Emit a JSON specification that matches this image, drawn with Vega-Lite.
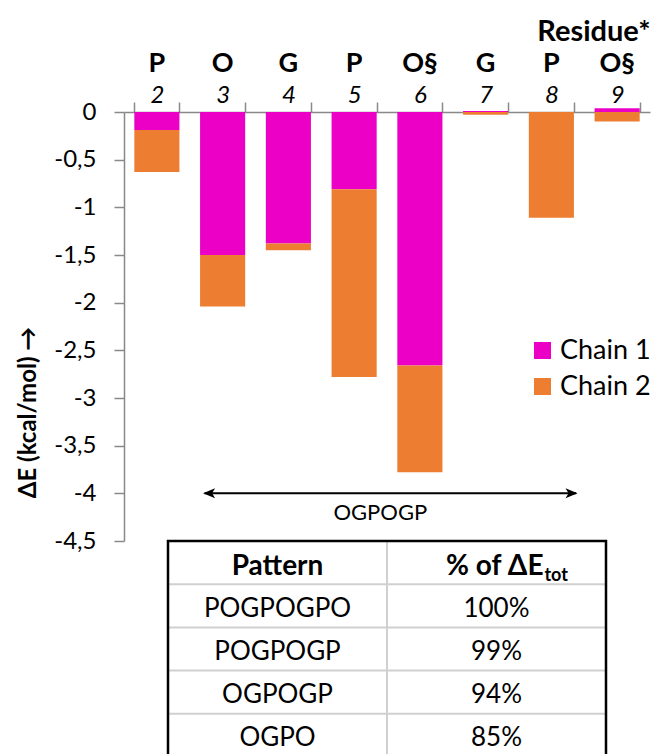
{
  "$schema": "https://vega.github.io/schema/vega-lite/v6.json",
  "background": "white",
  "padding": {"left": 16, "top": 17, "right": 0, "bottom": 0},
  "config": {"font": "Lato", "view": {"stroke": null}},
  "bounds": "flush",
  "center": true,
  "spacing": -4,
  "vconcat": [
    {
      "width": 526,
      "height": 429,
      "data": {"values": [
        {"pos": 2, "chain": "Chain 1", "dE": -0.19},
        {"pos": 2, "chain": "Chain 2", "dE": -0.44},
        {"pos": 3, "chain": "Chain 1", "dE": -1.50},
        {"pos": 3, "chain": "Chain 2", "dE": -0.54},
        {"pos": 4, "chain": "Chain 1", "dE": -1.38},
        {"pos": 4, "chain": "Chain 2", "dE": -0.07},
        {"pos": 5, "chain": "Chain 1", "dE": -0.81},
        {"pos": 5, "chain": "Chain 2", "dE": -1.97},
        {"pos": 6, "chain": "Chain 1", "dE": -2.66},
        {"pos": 6, "chain": "Chain 2", "dE": -1.12},
        {"pos": 7, "chain": "Chain 1", "dE": 0.01},
        {"pos": 7, "chain": "Chain 2", "dE": -0.03},
        {"pos": 8, "chain": "Chain 1", "dE": 0},
        {"pos": 8, "chain": "Chain 2", "dE": -1.11},
        {"pos": 9, "chain": "Chain 1", "dE": 0.04},
        {"pos": 9, "chain": "Chain 2", "dE": -0.10}
      ]},
      "layer": [
        {
          "mark": {"type": "bar"},
          "encoding": {
            "x": {
              "field": "pos", "type": "ordinal",
              "scale": {"paddingInner": 0.314, "paddingOuter": 0.157},
              "axis": {
                "orient": "top", "title": null, "labelAngle": 0,
                "domainColor": "#898989", "domainWidth": 1.5,
                "tickColor": "#898989", "tickWidth": 1.5, "tickSize": 10, "tickBand": "extent",
                "labelFontSize": 24, "labelFontStyle": "italic", "labelColor": "black", "labelPadding": -5
              }
            },
            "y": {
              "field": "dE", "type": "quantitative", "stack": "zero",
              "scale": {"domain": [-4.5, 0], "nice": false, "zero": false},
              "axis": {
                "values": [0, -0.5, -1, -1.5, -2, -2.5, -3, -3.5, -4, -4.5],
                "labelExpr": "replace(toString(datum.value), '.', ',')",
                "labelFontSize": 24, "labelColor": "black", "labelPadding": 18,
                "tickSize": 10, "tickColor": "#898989", "tickWidth": 1.5,
                "domainColor": "#898989", "domainWidth": 1.5, "grid": false,
                "title": "ΔE (kcal/mol) →", "titleFontSize": 24, "titleFontWeight": "bold", "titleColor": "black",
                "titleX": -96, "titleY": 300, "titleAngle": -90, "titleAlign": "center", "titleBaseline": "middle"
              }
            },
            "color": {
              "field": "chain", "type": "nominal",
              "scale": {"domain": ["Chain 1", "Chain 2"], "range": ["#EC00C6", "#ED7D31"]},
              "legend": {
                "title": null, "orient": "none", "legendX": 405, "legendY": 225, "padding": 0,
                "symbolType": "square", "symbolSize": 289, "symbolStrokeWidth": 0, "symbolOpacity": 1,
                "labelFontSize": 27, "labelColor": "black", "rowPadding": 8, "labelOffset": 4
              }
            },
            "order": {"field": "chain", "sort": "ascending"}
          }
        },
        {
          "mark": {"type": "point", "opacity": 0},
          "encoding": {
            "x": {
              "field": "pos", "type": "ordinal",
              "axis": {
                "orient": "top", "domain": false, "ticks": false, "tickSize": 0, "labelAngle": 0,
                "labelPadding": 35, "labelFontSize": 27, "labelFontWeight": "bold", "labelColor": "black",
                "labelExpr": "['','','P','O','G','P','O§','G','P','O§'][datum.value]",
                "title": "Residue*", "titleFontSize": 29, "titleFontWeight": "bold", "titleColor": "black",
                "titleAnchor": "end", "titleAlign": "right", "titleX": 526, "titleY": -72, "titleBaseline": "alphabetic"
              }
            }
          }
        },
        {
          "data": {"values": [{"pos": 3, "pos2": 8, "dE": -4.0}]},
          "mark": {"type": "rule", "color": "black", "strokeWidth": 2},
          "encoding": {
            "x": {"field": "pos", "type": "ordinal", "bandPosition": 0.1, "axis": null},
            "x2": {"field": "pos2", "bandPosition": 1.05},
            "y": {"field": "dE", "type": "quantitative", "scale": {"domain": [-4.5, 0], "nice": false, "zero": false}}
          }
        },
        {
          "data": {"values": [{"pos": 3, "dE": -4.0}]},
          "mark": {"type": "point", "filled": true, "color": "black", "opacity": 1, "size": 100, "shape": "M0,0 L2.4,-1 L1.8,0 L2.4,1 Z"},
          "encoding": {
            "x": {"field": "pos", "type": "ordinal", "bandPosition": 0.067, "axis": null},
            "y": {"field": "dE", "type": "quantitative", "scale": {"domain": [-4.5, 0], "nice": false, "zero": false}}
          }
        },
        {
          "data": {"values": [{"pos": 8, "dE": -4.0}]},
          "mark": {"type": "point", "filled": true, "color": "black", "opacity": 1, "size": 100, "shape": "M0,0 L-2.4,-1 L-1.8,0 L-2.4,1 Z"},
          "encoding": {
            "x": {"field": "pos", "type": "ordinal", "bandPosition": 1.08, "axis": null},
            "y": {"field": "dE", "type": "quantitative", "scale": {"domain": [-4.5, 0], "nice": false, "zero": false}}
          }
        },
        {
          "data": {"values": [{"pos": 5, "dE": -4.0, "txt": "OGPOGP"}]},
          "mark": {"type": "text", "fontSize": 22, "color": "black", "baseline": "middle", "dy": 20},
          "encoding": {
            "x": {"field": "pos", "type": "ordinal", "bandPosition": 1.08, "axis": null},
            "y": {"field": "dE", "type": "quantitative", "scale": {"domain": [-4.5, 0], "nice": false, "zero": false}},
            "text": {"field": "txt"}
          }
        }
      ],
      "resolve": {"axis": {"x": "independent"}}
    },
    {
      "width": 438,
      "height": 216,
      "data": {"values": [
        {"row": 0, "col": "Pattern", "txt": "Pattern", "hdr": 1, "sub": ""},
        {"row": 0, "col": "Pct", "txt": "% of ΔE", "hdr": 1, "sub": "tot"},
        {"row": 1, "col": "Pattern", "txt": "POGPOGPO", "hdr": 0, "sub": ""},
        {"row": 1, "col": "Pct", "txt": "100%", "hdr": 0, "sub": ""},
        {"row": 2, "col": "Pattern", "txt": "POGPOGP", "hdr": 0, "sub": ""},
        {"row": 2, "col": "Pct", "txt": "99%", "hdr": 0, "sub": ""},
        {"row": 3, "col": "Pattern", "txt": "OGPOGP", "hdr": 0, "sub": ""},
        {"row": 3, "col": "Pct", "txt": "94%", "hdr": 0, "sub": ""},
        {"row": 4, "col": "Pattern", "txt": "OGPO", "hdr": 0, "sub": ""},
        {"row": 4, "col": "Pct", "txt": "85%", "hdr": 0, "sub": ""}
      ]},
      "encoding": {
        "x": {"field": "col", "type": "nominal", "axis": null, "scale": {"type": "band", "domain": ["Pattern", "Pct"], "paddingInner": 0, "paddingOuter": 0}},
        "y": {"field": "row", "type": "ordinal", "axis": null, "scale": {"type": "band", "paddingInner": 0, "paddingOuter": 0}}
      },
      "layer": [
        {
          "transform": [{"filter": "datum.row > 0 && datum.col == 'Pattern'"}],
          "mark": {"type": "rule", "color": "#d0d0d0", "strokeWidth": 2},
          "encoding": {
            "x": null,
            "y": {"field": "row", "type": "ordinal", "bandPosition": 0}
          }
        },
        {
          "transform": [{"filter": "datum.row == 0 && datum.col == 'Pct'"}],
          "mark": {"type": "rule", "color": "#d0d0d0", "strokeWidth": 2},
          "encoding": {
            "y": null,
            "x": {"field": "col", "type": "nominal", "bandPosition": 0}
          }
        },
        {
          "transform": [{"filter": "datum.hdr == 0"}],
          "mark": {"type": "text", "fontSize": 26, "color": "black", "baseline": "middle", "dy": 3},
          "encoding": {"text": {"field": "txt"}}
        },
        {
          "transform": [{"filter": "datum.hdr == 1 && datum.col == 'Pattern'"}],
          "mark": {"type": "text", "fontSize": 28, "fontWeight": "bold", "color": "black", "baseline": "middle", "dy": 4},
          "encoding": {"text": {"field": "txt"}}
        },
        {
          "transform": [{"filter": "datum.hdr == 1 && datum.col == 'Pct'"}],
          "mark": {"type": "text", "fontSize": 28, "fontWeight": "bold", "color": "black", "baseline": "middle", "align": "right", "dx": 47, "dy": 4},
          "encoding": {"text": {"field": "txt"}}
        },
        {
          "transform": [{"filter": "datum.hdr == 1 && datum.col == 'Pct'"}],
          "mark": {"type": "text", "fontSize": 18, "fontWeight": "bold", "color": "black", "baseline": "middle", "align": "left", "dx": 48, "dy": 13},
          "encoding": {"text": {"field": "sub"}}
        },
        {
          "transform": [{"filter": "datum.row == 0 && datum.col == 'Pct'"}],
          "mark": {"type": "rect", "filled": false, "stroke": "black", "strokeWidth": 2.5},
          "encoding": {"x": null, "y": null}
        }
      ]
    }
  ]
}
